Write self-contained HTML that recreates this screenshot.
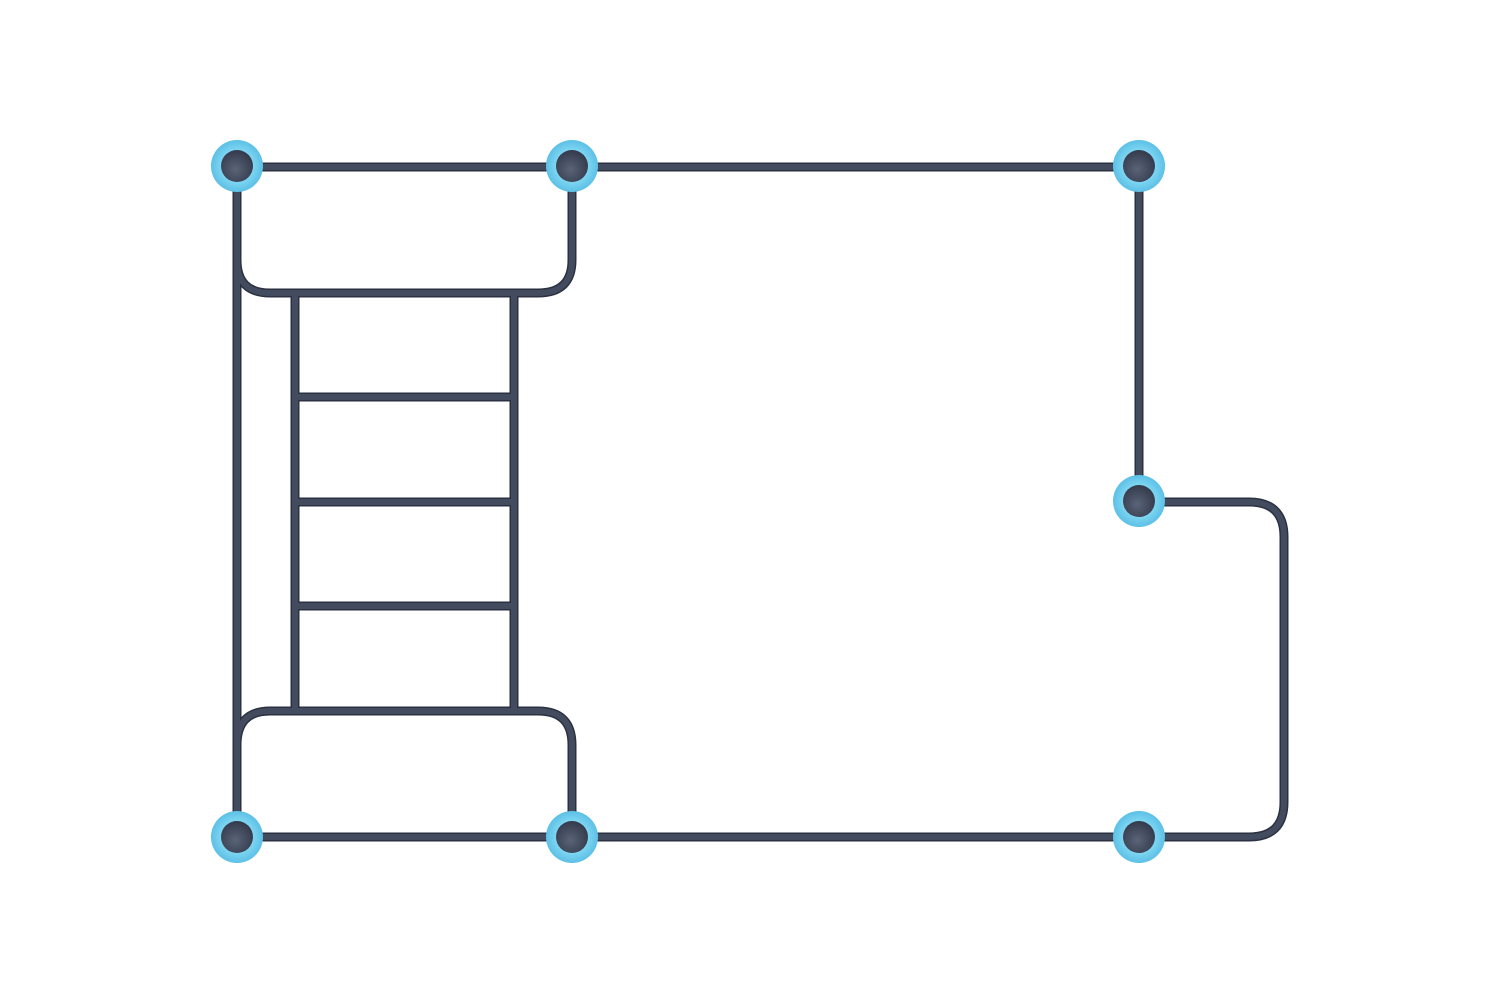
<!DOCTYPE html>
<html><head><meta charset="utf-8"><style>html,body{margin:0;padding:0;background:#fff}svg{display:block}</style></head>
<body>
<svg width="1500" height="1000" viewBox="0 0 1500 1000" xmlns="http://www.w3.org/2000/svg">
<defs>
<radialGradient id="core" cx="0.45" cy="0.6" r="0.6"><stop offset="0" stop-color="#5a6478"/><stop offset="1" stop-color="#333a4c"/></radialGradient>
<radialGradient id="ring" cx="0.5" cy="0.5" r="0.5"><stop offset="0.6" stop-color="#7fd6f2"/><stop offset="1" stop-color="#5cc0e6"/></radialGradient>
</defs>
<g fill="none" stroke-linecap="round" stroke-linejoin="round">
<g id="paths">
<path d="M237 167 H1139"/>
<path d="M237 837 H1139"/>
<path d="M237 166 V837"/>
<path d="M237 166 V260 Q237 293 270 293 H538 Q572 293 572 260 V166"/>
<path d="M237 837 V745 Q237 711 270 711 H538 Q572 711 572 745 V837"/>
<path d="M295 293 V711 M514 293 V711 M295 397 H514 M295 502 H514 M295 606 H514"/>
<path d="M1139 166 V501"/>
<path d="M1139 502 H1249 Q1284 502 1284 537 V802 Q1284 837 1249 837 H1139"/>
</g>
</g>
<use href="#paths" stroke="#2b3141" stroke-width="9" fill="none"/>
<use href="#paths" stroke="#434b5f" stroke-width="6" fill="none"/>
<g>
<g transform="translate(237,166)"><circle r="26" fill="url(#ring)"/><circle r="16" fill="url(#core)"/></g>
<g transform="translate(572,166)"><circle r="26" fill="url(#ring)"/><circle r="16" fill="url(#core)"/></g>
<g transform="translate(1139,166)"><circle r="26" fill="url(#ring)"/><circle r="16" fill="url(#core)"/></g>
<g transform="translate(1139,501)"><circle r="26" fill="url(#ring)"/><circle r="16" fill="url(#core)"/></g>
<g transform="translate(237,837)"><circle r="26" fill="url(#ring)"/><circle r="16" fill="url(#core)"/></g>
<g transform="translate(572,837)"><circle r="26" fill="url(#ring)"/><circle r="16" fill="url(#core)"/></g>
<g transform="translate(1139,837)"><circle r="26" fill="url(#ring)"/><circle r="16" fill="url(#core)"/></g>
</g>
</svg>
</body></html>
